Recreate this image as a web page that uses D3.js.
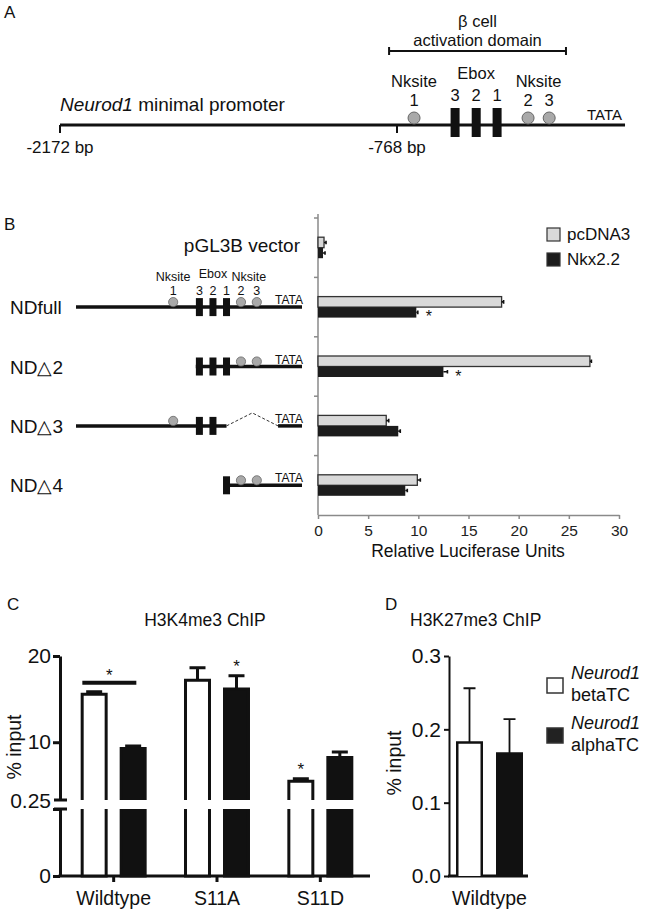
<!DOCTYPE html>
<html>
<head>
<meta charset="utf-8">
<title>Neurod1 promoter</title>
<style>
  body{margin:0;background:#fff;}
  svg{font-family:"Liberation Sans",Arial,sans-serif;}
</style>
<script src="https://cdn.jsdelivr.net/npm/d3@7"></script>
</head>
<body>
<script>
// ---------- data ----------
// panel A: sites on the minimal promoter (schematic bp positions)
var siteTypes = ["nk", "ebox", "ebox", "ebox", "nk", "nk"];
var siteNums = ["1", "3", "2", "1", "2", "3"];
var sitePosA = [-697, -526, -438, -351, -222, -134];
var promoterEnds = [-2172, 182];
var bpTicks = [-2172, -768];
var activationDomain = [-801, -64];
var siteGroupNames = ["Nksite", "Ebox", "Nksite"];
var siteGroupMembers = [[0], [1, 2, 3], [4, 5]];

// panel B: constructs (schematic 0-100 units along the drawn promoter)
var constructs = ["pGL3B vector", "NDfull", "ND\u25B32", "ND\u25B33", "ND\u25B34"];
var sitePosB = [43, 54.6, 60.6, 66.6, 73, 80];
var constructLines = [[], [[0, 100]], [[53, 100]], [[0, 66.6], [89.4, 100]], [[66.6, 100]]];
var constructSites = [[], [0, 1, 2, 3, 4, 5], [1, 2, 3, 4, 5], [0, 1, 2], [3, 4, 5]];
var constructGaps = [[], [], [], [[66.6, 89.4]], []];

var series = ["pcDNA3", "Nkx2.2"];
var lucPc = [0.6, 18.3, 27.1, 6.8, 9.9];
var lucPcErr = [0.2, 0.2, 0.15, 0.25, 0.3];
var lucNkx = [0.5, 9.8, 12.5, 8.0, 8.7];
var lucNkxErr = [0.2, 0.15, 0.4, 0.2, 0.2];
var lucStar = [false, true, true, false, false];
var lucTicks = [0, 5, 10, 15, 20, 25, 30];

// panel C: H3K4me3
var chipGroups = ["Wildtype", "S11A", "S11D"];
var k4Beta = [15.55, 17.2, 5.47];
var k4BetaErr = [0.3, 1.45, 0.3];
var k4Alpha = [9.26, 16.16, 8.22];
var k4AlphaErr = [0.3, 1.55, 0.65];
var k4Sig = ["pair", "alpha", "beta"];
var k4UpperTicks = [10, 20];
var k4LowerTicks = [0, 0.25];

// panel D: H3K27me3
var k27Groups = ["Wildtype"];
var k27Beta = [0.182];
var k27BetaErr = [0.074];
var k27Alpha = [0.167];
var k27AlphaErr = [0.047];
var k27Ticks = [0, 0.1, 0.2, 0.3];

// ---------- drawing ----------
var ink = "#111";
var svg = d3.select("body").append("svg")
    .attr("width", 645)
    .attr("height", 913);

function txt(g, x, y, s, size, anchor) {
    return g.append("text").attr("x", x).attr("y", y)
        .attr("font-size", size).attr("fill", ink)
        .attr("text-anchor", anchor || "start").text(s);
}

// panel letters
txt(svg, 4, 18, "A", 17);
txt(svg, 4, 230, "B", 17);
txt(svg, 7, 610, "C", 17);
txt(svg, 385, 610, "D", 17);

// ===== panel A =====
var xA = d3.scaleLinear().domain([-2172, -768]).range([60, 397]);
var lineY = 125;
var gA = svg.append("g");

gA.append("line")
    .attr("x1", xA(promoterEnds[0])).attr("x2", xA(promoterEnds[1]))
    .attr("y1", lineY).attr("y2", lineY)
    .attr("stroke", ink).attr("stroke-width", 3);

gA.selectAll(".bpt").data(bpTicks).enter().append("line")
    .attr("x1", xA).attr("x2", xA)
    .attr("y1", lineY).attr("y2", lineY + 8)
    .attr("stroke", ink).attr("stroke-width", 2);

gA.selectAll(".bpl").data(bpTicks).enter().append("text")
    .attr("x", xA).attr("y", 153)
    .attr("text-anchor", "middle").attr("font-size", 17).attr("fill", ink)
    .text(function (d) { return d + " bp"; });

// activation domain bracket
var bx1 = xA(activationDomain[0]), bx2 = xA(activationDomain[1]);
gA.append("path")
    .attr("d", "M" + bx1 + ",47V55M" + bx1 + ",51H" + bx2 + "M" + bx2 + ",47V55")
    .attr("stroke", ink).attr("stroke-width", 2).attr("fill", "none");
txt(gA, (bx1 + bx2) / 2, 26.5, "\u03B2 cell", 16.5, "middle");
txt(gA, (bx1 + bx2) / 2, 45.5, "activation domain", 16.5, "middle");

var promoterLabel = txt(gA, 60, 111, "", 19);
promoterLabel.append("tspan").attr("font-style", "italic").text("Neurod1");
promoterLabel.append("tspan").text(" minimal promoter");

// sites
sitePosA.forEach(function (p, i) {
    if (siteTypes[i] === "ebox") {
        gA.append("rect").attr("x", xA(p) - 4.5).attr("y", 108)
            .attr("width", 9).attr("height", 29).attr("fill", ink);
        txt(gA, xA(p), 101, siteNums[i], 16.5, "middle");
    } else {
        gA.append("circle").attr("cx", xA(p)).attr("cy", 118).attr("r", 6)
            .attr("fill", "#a9a9a9").attr("stroke", "#666").attr("stroke-width", 1);
        txt(gA, xA(p), 105.5, siteNums[i], 16.5, "middle");
    }
});
siteGroupNames.forEach(function (n, i) {
    var cx = d3.mean(siteGroupMembers[i], function (k) { return xA(sitePosA[k]); });
    txt(gA, cx, n === "Ebox" ? 78.5 : 87, n, 16.5, "middle");
});
txt(gA, xA(promoterEnds[1]) - 3, 120, "TATA", 15, "end");

// ===== panel B diagrams =====
var xB = d3.scaleLinear().domain([0, 100]).range([76, 302]);
var yB = d3.scaleBand().domain(constructs).range([218, 515]);
var gB = svg.append("g");

constructs.forEach(function (name, i) {
    var c = yB(name) + yB.bandwidth() / 2;
    if (i === 0) {
        txt(gB, 300, c + 4, name, 19, "end");
        return;
    }
    txt(gB, 10, c + 7, name, 19);
    constructLines[i].forEach(function (s) {
        gB.append("line").attr("x1", xB(s[0])).attr("x2", xB(s[1]))
            .attr("y1", c).attr("y2", c)
            .attr("stroke", ink).attr("stroke-width", 3.5);
    });
    constructGaps[i].forEach(function (s) {
        gB.append("path")
            .attr("d", "M" + xB(s[0]) + "," + c + "L" + xB((s[0] + s[1]) / 2) + "," + (c - 13) + "L" + xB(s[1]) + "," + c)
            .attr("fill", "none").attr("stroke", "#333").attr("stroke-width", 1)
            .attr("stroke-dasharray", "3,2");
    });
    constructSites[i].forEach(function (k) {
        var x = xB(sitePosB[k]);
        if (siteTypes[k] === "ebox") {
            gB.append("rect").attr("x", x - 3.5).attr("y", c - 9)
                .attr("width", 7).attr("height", 18).attr("fill", ink);
        } else {
            gB.append("circle").attr("cx", x).attr("cy", c - 5).attr("r", 4.6)
                .attr("fill", "#a9a9a9").attr("stroke", "#666").attr("stroke-width", 0.8);
        }
        if (i === 1) txt(gB, x, c - 12, siteNums[k], 12.5, "middle");
    });
    txt(gB, 303, c - 3, "TATA", 12, "end");
    if (i === 1) {
        siteGroupNames.forEach(function (n, j) {
            var cx = d3.mean(siteGroupMembers[j], function (k) { return xB(sitePosB[k]); });
            txt(gB, cx, n === "Ebox" ? c - 29.5 : c - 26, n, 12.5, "middle");
        });
    }
});

// ===== panel B bars =====
var xL = d3.scaleLinear().domain([0, 30]).range([318, 619]);
var ySer = d3.scaleBand().domain(series).range([-10.5, 10.5]);
var gL = svg.append("g");

var xAxisL = gL.append("g").attr("transform", "translate(0,515)")
    .call(d3.axisBottom(xL).tickValues(lucTicks).tickSize(4).tickSizeOuter(0).tickPadding(6));
xAxisL.select(".domain").attr("stroke", "#8a8a8a").attr("stroke-width", 1.5);
xAxisL.selectAll(".tick line").attr("stroke", "#8a8a8a").attr("stroke-width", 1.5);
xAxisL.selectAll(".tick text").attr("font-size", 15.5).attr("fill", "#222")
    .attr("font-family", "Liberation Sans, Arial, sans-serif");

gL.append("line").attr("x1", 318).attr("x2", 318).attr("y1", 214).attr("y2", 515)
    .attr("stroke", "#8a8a8a").attr("stroke-width", 1.5);
gL.selectAll(".ctick").data(constructs).enter().append("line")
    .attr("x1", 314).attr("x2", 318)
    .attr("y1", function (d) { return yB(d); }).attr("y2", function (d) { return yB(d); })
    .attr("stroke", "#8a8a8a").attr("stroke-width", 1.5);

txt(gL, 468, 556.5, "Relative Luciferase Units", 17.5, "middle");

var lucRows = constructs.map(function (d, i) {
    return [
        { c: d, s: "pcDNA3", v: lucPc[i], e: lucPcErr[i], star: false },
        { c: d, s: "Nkx2.2", v: lucNkx[i], e: lucNkxErr[i], star: lucStar[i] }
    ];
});
var lucFlat = [].concat.apply([], lucRows);
var lucFill = d3.scaleOrdinal().domain(series).range(["#d9d9d9", "#1c1c1c"]);

gL.selectAll(".lbar").data(lucFlat).enter().append("rect")
    .attr("x", xL(0))
    .attr("y", function (d) { return yB(d.c) + yB.bandwidth() / 2 + ySer(d.s); })
    .attr("width", function (d) { return xL(d.v) - xL(0); })
    .attr("height", ySer.bandwidth())
    .attr("fill", function (d) { return lucFill(d.s); })
    .attr("stroke", function (d) { return d.s === "pcDNA3" ? "#333" : "none"; })
    .attr("stroke-width", 1.3);

lucFlat.forEach(function (d) {
    var cy = yB(d.c) + yB.bandwidth() / 2 + ySer(d.s) + ySer.bandwidth() / 2;
    gL.append("path")
        .attr("d", "M" + xL(d.v) + "," + cy + "H" + xL(d.v + d.e) + "M" + xL(d.v + d.e) + "," + (cy - 1.8) + "V" + (cy + 1.8))
        .attr("stroke", ink).attr("stroke-width", 1.6).attr("fill", "none");
    if (d.star) txt(gL, xL(d.v + d.e) + 11, cy + 10, "*", 16, "middle");
});

// legend B
series.forEach(function (s, i) {
    gL.append("rect").attr("x", 547).attr("y", 228 + i * 25).attr("width", 13).attr("height", 13)
        .attr("fill", lucFill(s)).attr("stroke", "#333").attr("stroke-width", 1.2);
    txt(gL, 567, 240 + i * 25, s, 17);
});

// ===== panel C =====
var gC = svg.append("g");
var yUp = d3.scaleLinear().domain([3.3, 20]).range([800, 656]);
var yLo = d3.scaleLinear().domain([0, 0.25]).range([876, 809]);
var xC = d3.scaleBand().domain(chipGroups).range([62, 372]).paddingInner(0.2).paddingOuter(0.1);
var xCs = d3.scaleBand().domain(["beta", "alpha"]).range([0, xC.bandwidth()])
    .paddingInner(0.308).paddingOuter(0.214);

txt(gC, 205, 626, "H3K4me3 ChIP", 17.5, "middle");

function styleAxis(ax, w, size) {
    ax.select(".domain").attr("stroke", ink).attr("stroke-width", w);
    ax.selectAll(".tick line").attr("stroke", ink).attr("stroke-width", w);
    ax.selectAll(".tick text").attr("font-size", size).attr("fill", ink)
        .attr("font-family", "Liberation Sans, Arial, sans-serif");
}

var axUp = gC.append("g").attr("transform", "translate(60,0)")
    .call(d3.axisLeft(yUp).tickValues(k4UpperTicks).tickSize(7).tickSizeOuter(0).tickPadding(2));
styleAxis(axUp, 3, 21);
var axLo = gC.append("g").attr("transform", "translate(60,0)")
    .call(d3.axisLeft(yLo).tickValues(k4LowerTicks).tickSize(7).tickSizeOuter(0).tickPadding(2)
        .tickFormat(function (d) { return d === 0 ? "0" : "0.25"; }));
styleAxis(axLo, 3, 21);
axLo.selectAll(".tick text").filter(function (d) { return d === 0.25; }).attr("dy", "-0.05em");
// axis break marks
[800, 809].forEach(function (y) {
    gC.append("line").attr("x1", 54).attr("x2", 67).attr("y1", y).attr("y2", y)
        .attr("stroke", ink).attr("stroke-width", 3);
});

var axCx = gC.append("g").attr("transform", "translate(0,876)")
    .call(d3.axisBottom(xC).tickSize(6).tickSizeOuter(0).tickPadding(9.5));
styleAxis(axCx, 3, 19.5);
axCx.select(".domain").remove();
gC.append("line").attr("x1", 58.5).attr("x2", 370).attr("y1", 876).attr("y2", 876)
    .attr("stroke", ink).attr("stroke-width", 3);

gC.append("text").attr("transform", "translate(21,747) rotate(-90)")
    .attr("text-anchor", "middle").attr("font-size", 19.5).attr("fill", ink).text("% input");

var k4Rows = [];
chipGroups.forEach(function (g, i) {
    k4Rows.push({ g: g, s: "beta", v: k4Beta[i], e: k4BetaErr[i] });
    k4Rows.push({ g: g, s: "alpha", v: k4Alpha[i], e: k4AlphaErr[i] });
});

k4Rows.forEach(function (d) {
    var x0 = xC(d.g) + xCs(d.s) + 1.5, x1 = xC(d.g) + xCs(d.s) + xCs.bandwidth() - 1.5;
    var fill = d.s === "beta" ? "#fff" : ink;
    gC.append("path")
        .attr("d", "M" + x0 + "," + yUp.range()[0] + "V" + yUp(d.v) + "H" + x1 + "V" + yUp.range()[0])
        .attr("fill", fill).attr("stroke", ink).attr("stroke-width", 3);
    gC.append("path")
        .attr("d", "M" + x0 + "," + yLo.range()[1] + "V" + yLo.range()[0] + "H" + x1 + "V" + yLo.range()[1])
        .attr("fill", fill).attr("stroke", ink).attr("stroke-width", 3);
    var cx = (x0 + x1) / 2;
    gC.append("path")
        .attr("d", "M" + cx + "," + yUp(d.v) + "V" + yUp(d.v + d.e) + "M" + (cx - 8) + "," + yUp(d.v + d.e) + "H" + (cx + 8))
        .attr("stroke", ink).attr("stroke-width", 3).attr("fill", "none");
});

chipGroups.forEach(function (g, i) {
    if (k4Sig[i] === "pair") {
        var top = Math.max(k4Beta[i] + k4BetaErr[i], k4Alpha[i] + k4AlphaErr[i]);
        var ly = yUp(top) - 9;
        var lx0 = xC(g) + 10, lx1 = xC(g) + 64;
        gC.append("line").attr("x1", lx0).attr("x2", lx1).attr("y1", ly).attr("y2", ly)
            .attr("stroke", ink).attr("stroke-width", 4);
        txt(gC, (lx0 + lx1) / 2, ly - 2, "*", 17, "middle");
    } else {
        var v = k4Sig[i] === "beta" ? k4Beta[i] + k4BetaErr[i] : k4Alpha[i] + k4AlphaErr[i];
        var sx = xC(g) + xCs(k4Sig[i]) + xCs.bandwidth() / 2;
        txt(gC, sx, yUp(v) - 4, "*", 17, "middle");
    }
});

// ===== panel D =====
var gD = svg.append("g");
var yD = d3.scaleLinear().domain([0, 0.3]).range([876, 656]);
var xD = d3.scaleBand().domain(k27Groups).range([452, 527]);
var xDs = d3.scaleBand().domain(["beta", "alpha"]).range([452, 527]).paddingInner(0.325).paddingOuter(0.1);

txt(gD, 410, 626, "H3K27me3 ChIP", 17.5);

var axD = gD.append("g").attr("transform", "translate(449,0)")
    .call(d3.axisLeft(yD).tickValues(k27Ticks).tickSize(5).tickSizeOuter(0).tickPadding(3)
        .tickFormat(d3.format(".1f")));
styleAxis(axD, 2, 21);
gD.append("line").attr("x1", 448).attr("x2", 528).attr("y1", 876).attr("y2", 876)
    .attr("stroke", ink).attr("stroke-width", 3);
k27Groups.forEach(function (g) {
    txt(gD, xD(g) + xD.bandwidth() / 2, 905, g, 19.5, "middle");
});

gD.append("text").attr("transform", "translate(401,763) rotate(-90)")
    .attr("text-anchor", "middle").attr("font-size", 19.5).attr("fill", ink).text("% input");

var k27Rows = [
    { s: "beta", v: k27Beta[0], e: k27BetaErr[0] },
    { s: "alpha", v: k27Alpha[0], e: k27AlphaErr[0] }
];
k27Rows.forEach(function (d) {
    var x0 = xDs(d.s) + 1.25, x1 = xDs(d.s) + xDs.bandwidth() - 1.25;
    var cx = (x0 + x1) / 2;
    gD.append("path")
        .attr("d", "M" + cx + "," + yD(d.v) + "V" + yD(d.v + d.e) + "M" + (cx - 6) + "," + yD(d.v + d.e) + "H" + (cx + 6))
        .attr("stroke", ink).attr("stroke-width", 1.8).attr("fill", "none");
    gD.append("path")
        .attr("d", "M" + x0 + "," + yD(0) + "V" + yD(d.v) + "H" + x1 + "V" + yD(0))
        .attr("fill", d.s === "beta" ? "#fff" : ink).attr("stroke", ink).attr("stroke-width", 2.5);
});

// legend D
var legD = [["betaTC", "#fff"], ["alphaTC", "#222"]];
legD.forEach(function (l, i) {
    var y0 = 678 + i * 50;
    gD.append("rect").attr("x", 547).attr("y", y0).attr("width", 16).attr("height", 15)
        .attr("fill", l[1]).attr("stroke", "#333").attr("stroke-width", 1.5);
    txt(gD, 571, y0 + 1, "Neurod1", 18).attr("font-style", "italic");
    txt(gD, 571, y0 + 23, l[0], 18);
});
</script>
</body>
</html>
